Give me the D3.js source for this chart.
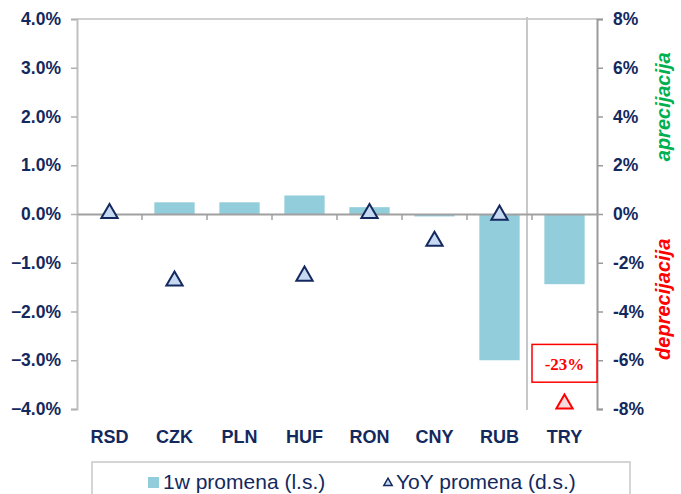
<!DOCTYPE html>
<html lang="en">
<head>
    <meta charset="UTF-8">
    <script src="https://d3js.org/d3.v7.min.js" charset="utf-8"></script>
    <title>Kursevi</title>
    <style>
        body { margin: 0; background: white; }
        svg { display: block; font-family: "Liberation Sans", Arial, sans-serif; }
    </style>
</head>
<body>
<div id="chart"></div>

<script>
    const width = 681;
    const height = 494;

    // currencies
    const currencies = ["RSD", "CZK", "PLN", "HUF", "RON", "CNY", "RUB", "TRY"];
    // 1w change, left scale (%)
    const weekChange = [-0.01, 0.24, 0.24, 0.38, 0.14, -0.05, -3.0, -1.44];
    // YoY change, right scale (%), PLN has no marker
    const yoyChange = [0.07, -2.7, null, -2.5, 0.07, -1.07, 0.0, -23];
    const leftTicks = [4, 3, 2, 1, 0, -1, -2, -3, -4];
    const rightTicks = [8, 6, 4, 2, 0, -2, -4, -6, -8];

    const navy = "#13295e";
    const margin = {top: 19, left: 77, right: 84, bottom: 85};

    const svg = d3.select("#chart").append("svg")
        .attr("width", width)
        .attr("height", height);

    const x = d3.scaleBand()
        .domain(currencies)
        .range([margin.left, width - margin.right]);

    const yLeft = d3.scaleLinear().domain([-4, 4]).range([height - margin.bottom, margin.top]);
    const yRight = d3.scaleLinear().domain([-8, 8]).range([height - margin.bottom, margin.top]);

    // top border
    svg.append("line")
        .attr("x1", margin.left).attr("x2", width - margin.right)
        .attr("y1", margin.top).attr("y2", margin.top)
        .attr("stroke", "#d0d0d0").attr("stroke-width", 2);

    // separator before TRY (outlier)
    svg.append("line")
        .attr("x1", x("TRY") - 5).attr("x2", x("TRY") - 5)
        .attr("y1", margin.top - 2).attr("y2", yLeft(-4) + 1)
        .attr("stroke", "#c8c8c8").attr("stroke-width", 2);

    // bars
    svg.selectAll("rect.bar")
        .data(currencies)
        .enter()
        .append("rect")
        .attr("class", "bar")
        .attr("x", d => x(d) + x.bandwidth() * 0.19)
        .attr("width", x.bandwidth() * 0.62)
        .attr("y", (d, i) => yLeft(Math.max(0, weekChange[i])))
        .attr("height", (d, i) => Math.max(1, Math.abs(yLeft(weekChange[i]) - yLeft(0))))
        .attr("fill", "#92cddc");

    // left axis
    const leftAxis = svg.append("g")
        .attr("transform", `translate(${margin.left},0)`)
        .call(d3.axisLeft(yLeft).tickValues(leftTicks).tickSize(6).tickPadding(10)
            .tickFormat(d => d3.format(".1f")(d) + "%"));
    leftAxis.select(".domain").attr("stroke", "#c0c0c0").attr("stroke-width", 2);
    leftAxis.selectAll(".tick line").attr("stroke", "#b0b0b0").attr("stroke-width", 1.5);
    leftAxis.selectAll("text")
        .attr("fill", navy).attr("font-size", 17.5).attr("font-weight", "bold")
        .attr("font-family", "Liberation Sans, Arial, sans-serif");

    // right axis
    const rightAxis = svg.append("g")
        .attr("transform", `translate(${width - margin.right},0)`)
        .call(d3.axisRight(yRight).tickValues(rightTicks).tickSize(6).tickPadding(10)
            .tickFormat(d => d + "%"));
    rightAxis.select(".domain").attr("stroke", "#9a9a9a").attr("stroke-width", 2);
    rightAxis.selectAll(".tick line").attr("stroke", "#9a9a9a").attr("stroke-width", 1.5);
    rightAxis.selectAll("text")
        .attr("fill", navy).attr("font-size", 17.5).attr("font-weight", "bold")
        .attr("font-family", "Liberation Sans, Arial, sans-serif");

    // category axis on zero line
    const catAxis = svg.append("g")
        .attr("transform", `translate(0,${yLeft(0)})`)
        .call(d3.axisBottom(x).tickSize(0).tickFormat(""));
    catAxis.select(".domain").attr("stroke", "#a0a0a0").attr("stroke-width", 2);
    svg.selectAll("line.cattick")
        .data(currencies.slice(1))
        .enter()
        .append("line")
        .attr("class", "cattick")
        .attr("x1", d => x(d)).attr("x2", d => x(d))
        .attr("y1", yLeft(0)).attr("y2", yLeft(0) + 6)
        .attr("stroke", "#a0a0a0").attr("stroke-width", 1.5);

    // category labels
    svg.selectAll("text.cat")
        .data(currencies)
        .enter()
        .append("text")
        .attr("class", "cat")
        .attr("x", d => x(d) + x.bandwidth() / 2)
        .attr("y", yLeft(-4) + 34)
        .attr("text-anchor", "middle")
        .attr("font-size", 18).attr("font-weight", "bold")
        .attr("fill", navy)
        .text(d => d);

    // YoY triangles (TRY is off scale, drawn at the bottom in red)
    const tri = d3.symbol().type(d3.symbolTriangle).size(115);
    svg.selectAll("path.yoy")
        .data(currencies.filter((d, i) => yoyChange[i] !== null))
        .enter()
        .append("path")
        .attr("class", "yoy")
        .attr("d", tri)
        .attr("transform", d => {
            const v = yoyChange[currencies.indexOf(d)];
            return `translate(${x(d) + x.bandwidth() / 2},${yRight(Math.max(v, -7.75)) + 1})`;
        })
        .attr("fill", d => yoyChange[currencies.indexOf(d)] < -8 ? "#f6dcdc" : "#c6d9f1")
        .attr("stroke", d => yoyChange[currencies.indexOf(d)] < -8 ? "#ff0000" : navy)
        .attr("stroke-width", 2);

    // off-scale value box
    const tryIdx = currencies.indexOf("TRY");
    svg.append("rect")
        .attr("x", x("TRY")).attr("y", yRight(-5.35))
        .attr("width", width - margin.right - x("TRY")).attr("height", yRight(-6.9) - yRight(-5.35))
        .attr("fill", "white").attr("stroke", "#ff0000").attr("stroke-width", 1.5);
    svg.append("text")
        .attr("x", x("TRY") + x.bandwidth() / 2).attr("y", yRight(-6.15) + 6)
        .attr("text-anchor", "middle")
        .attr("font-family", "Liberation Serif, Times New Roman, serif")
        .attr("font-weight", "bold").attr("font-size", 17)
        .attr("fill", "#ff0000")
        .text(yoyChange[tryIdx] + "%");

    // side labels
    svg.append("text")
        .attr("transform", `translate(670,${yRight(4.4)}) rotate(-90)`)
        .attr("text-anchor", "middle")
        .attr("font-size", 20).attr("font-weight", "bold").attr("font-style", "italic")
        .attr("fill", "#00b050")
        .text("aprecijacija");
    svg.append("text")
        .attr("transform", `translate(670,${yRight(-3.5)}) rotate(-90)`)
        .attr("text-anchor", "middle")
        .attr("font-size", 20).attr("font-weight", "bold").attr("font-style", "italic")
        .attr("fill", "#ff0000")
        .text("deprecijacija");

    // legend
    const legend = svg.append("g");
    legend.append("rect")
        .attr("x", 92).attr("y", 462).attr("width", 538).attr("height", 50)
        .attr("fill", "white").attr("stroke", "#c8c8c8").attr("stroke-width", 1.5);
    legend.append("rect")
        .attr("x", 148).attr("y", 477).attr("width", 11).attr("height", 11)
        .attr("fill", "#92cddc");
    legend.append("text")
        .attr("x", 163).attr("y", 489)
        .attr("font-size", 21).attr("fill", navy)
        .text("1w promena (l.s.)");
    legend.append("path")
        .attr("d", d3.symbol().type(d3.symbolTriangle).size(30))
        .attr("transform", "translate(388,483)")
        .attr("fill", "#c6d9f1").attr("stroke", navy).attr("stroke-width", 1.5);
    legend.append("text")
        .attr("x", 396).attr("y", 489)
        .attr("font-size", 21).attr("fill", navy)
        .text("YoY promena (d.s.)");
</script>
</body>
</html>
